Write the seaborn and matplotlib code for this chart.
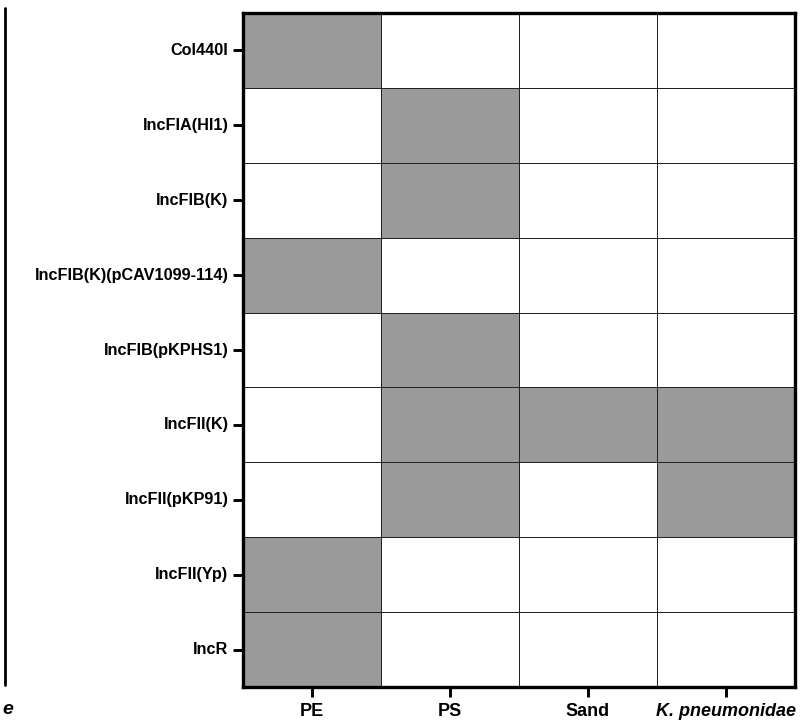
import matplotlib
matplotlib.use("Agg")
import matplotlib.pyplot as plt
import seaborn as sns
import pandas as pd
import numpy as np
from matplotlib.colors import ListedColormap
from matplotlib.lines import Line2D

sns.set_style("white")
plt.rcParams['font.family'] = ['Liberation Sans', 'DejaVu Sans']
plt.rcParams['text.color'] = 'black'
plt.rcParams['xtick.color'] = 'black'
plt.rcParams['ytick.color'] = 'black'

replicons = ["Col440I", "IncFIA(HI1)", "IncFIB(K)", "IncFIB(K)(pCAV1099-114)",
             "IncFIB(pKPHS1)", "IncFII(K)", "IncFII(pKP91)", "IncFII(Yp)", "IncR"]
sources = ["PE", "PS", "Sand", "K. pneumonidae"]
PE = [1, 0, 0, 1, 0, 0, 0, 1, 1]
PS = [0, 1, 1, 0, 1, 1, 1, 0, 0]
Sand = [0, 0, 0, 0, 0, 1, 0, 0, 0]
Kpn = [0, 0, 0, 0, 0, 1, 1, 0, 0]

df = pd.DataFrame({"PE": PE, "PS": PS, "Sand": Sand, "K. pneumonidae": Kpn},
                  index=replicons)

fig = plt.figure(figsize=(8.09, 7.2), dpi=100)
ax = fig.add_axes([243/809, 1-687/720, (795-243)/809, (687-13)/720])

cmap = ListedColormap(["#ffffff", "#9a9a9a"])
sns.heatmap(df, ax=ax, cmap=cmap, vmin=0, vmax=1, cbar=False,
            linewidths=0.65, linecolor="#222222")

for s in ax.spines.values():
    s.set_visible(True)
    s.set_linewidth(2.4)
    s.set_color("black")

ax.tick_params(axis='both', which='major', direction='out', length=7.5,
               width=2.1, color='black', labelcolor='black',
               left=True, bottom=True, pad=3)
ax.tick_params(axis='x', pad=4)
ax.set_xticklabels(sources, rotation=0, fontsize=13, fontweight='bold', color='black')
labs = ax.get_xticklabels()
labs[-1].set_fontstyle('italic')
ax.set_yticklabels(replicons, rotation=0, fontsize=11.7, fontweight='bold', color='black')
ax.set_xlabel("")
ax.set_ylabel("")

fig.add_artist(Line2D([5/809, 5/809], [1-8/720, 1-685/720], color='black',
                      linewidth=2.0, transform=fig.transFigure))
fig.text(2/809, 1-714/720, "e", fontsize=14, fontweight='bold',
         fontstyle='italic', ha='left', va='baseline', color='black')

fig.savefig("out.png", dpi=100)
